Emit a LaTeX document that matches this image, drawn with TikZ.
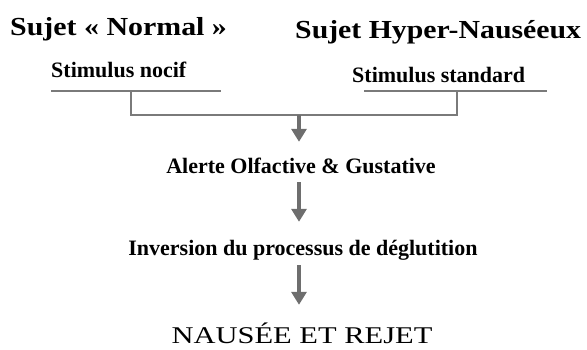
\documentclass[tikz,border=0pt]{standalone}
\usepackage{fontspec}
\setmainfont{Liberation Serif}
\usepackage{graphicx}
\usetikzlibrary{positioning,arrows.meta}
\definecolor{lineGray}{HTML}{7A7A7A}
\definecolor{arrowGray}{HTML}{6E6E6E}
\tikzstyle{subject} = [inner sep=0, anchor=base west, font=\fontsize{26}{26}\selectfont\bfseries]
\tikzstyle{stimulus} = [inner sep=0, anchor=base west, text height=16pt, text depth=5pt, font=\fontsize{22}{22}\selectfont\bfseries]
\tikzstyle{stage} = [inner sep=0, anchor=base, text height=16pt, text depth=5pt, font=\fontsize{22}{22}\selectfont\bfseries]
\tikzstyle{outcome} = [inner sep=0, anchor=base, text height=20pt, text depth=2pt, font=\fontsize{24}{24}\selectfont]
\tikzstyle{bar} = [draw=lineGray, line width=2pt]
\tikzstyle{line} = [draw=arrowGray, line width=4pt, -{Triangle[width=15pt,length=13pt]}]

\begin{document}
\begin{tikzpicture}[x=1pt, y=-1pt]
    \useasboundingbox (0,0) rectangle (587,349);

    % Place nodes
    \node [subject] (normal) at (10,35) {\scalebox{1.15}[1]{Sujet « Normal »}};
    \node [subject] (hyper) at (295,38) {\scalebox{1.145}[1]{Sujet Hyper-Nauséeux}};
    \node [stimulus] (nocif) at (51,77) {Stimulus nocif};
    \node [stimulus] (standard) at (352,82) {Stimulus standard};
    \node [stage] (alerte) at (301,173) {Alerte Olfactive \& Gustative};
    \node [stage] (inversion) at (303,255) {Inversion du processus de déglutition};
    \node [outcome] (rejet) at (302,343) {\scalebox{1.27}[1]{NAUSÉE ET REJET}};

    % Helper coordinates for the bracket
    \coordinate (nocif-end) at (221,91);
    \coordinate (standard-end) at (547,91);
    \coordinate (nocif-stub) at (131,91);
    \coordinate (standard-stub) at (457,91);
    \coordinate (join) at (299,115);

    % Draw edges
    \path [bar] (nocif.west |- nocif-end) -- (nocif-end);
    \path [bar] (364,91) -- (standard-end);
    \path [bar, line width=2.5pt] (nocif-stub) |- (standard-stub |- join) -- (standard-stub);
    \path [line, shorten >=15pt] (join) -- (join |- alerte.north);
    \path [line, shorten <=4pt, shorten >=17pt] (join |- alerte.south) -- (join |- inversion.north);
    \path [line, shorten <=5pt, shorten >=18pt] (join |- inversion.south) -- (join |- rejet.north);
\end{tikzpicture}
\end{document}
